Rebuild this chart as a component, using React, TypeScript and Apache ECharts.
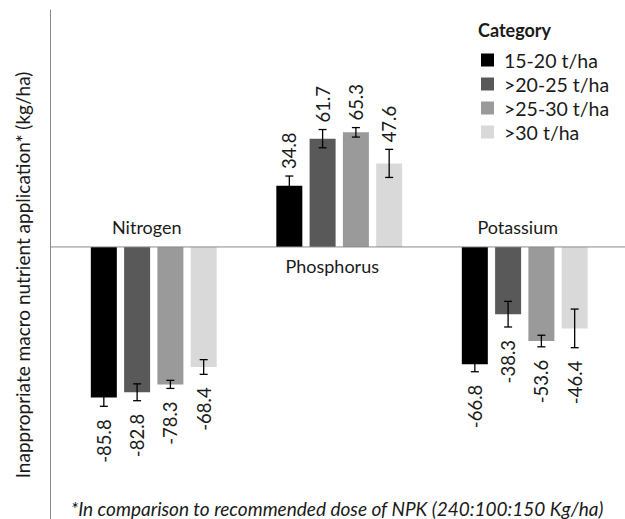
import React, { useEffect, useRef } from "react";
import * as echarts from "echarts";

const categories = ["Nitrogen", "Phosphorus", "Potassium"];
const seriesNames = ["15-20 t/ha", ">20-25 t/ha", ">25-30 t/ha", ">30 t/ha"];
const values15to20 = [-85.8, 34.8, -66.8];
const values20to25 = [-82.8, 61.7, -38.3];
const values25to30 = [-78.3, 65.3, -53.6];
const valuesOver30 = [-68.4, 47.6, -46.4];
const errors15to20 = [5.0, 5.6, 4.3];
const errors20to25 = [4.8, 5.2, 7.3];
const errors25to30 = [2.3, 2.7, 3.3];
const errorsOver30 = [4.2, 8.0, 11.0];
const yAxisTitle = "Inappropriate macro nutrient application* (kg/ha)";
const footnote = "*In comparison to recommended dose of NPK (240:100:150 Kg/ha)";
const legendTitle = "Category";

const allValues = [values15to20, values20to25, values25to30, valuesOver30];
const allErrors = [errors15to20, errors20to25, errors25to30, errorsOver30];
const colors = ["#000000", "#595959", "#9a9a9a", "#d9d9d9"];
const FONT = "Lato";
const TEXT = "#1a1a1a";
const BAR_W = 26;
const BAR_GAP = 0.28;
const SPACING = BAR_W * (1 + BAR_GAP);

export default function App() {
  const ref = useRef<HTMLDivElement>(null);
  useEffect(() => {
    if (!ref.current) return;
    const chart = echarts.init(ref.current, null, { renderer: "svg" });
    const errData: any[] = [];
    allValues.forEach((vals, s) => {
      vals.forEach((v, c) => {
        errData.push([c, v, allErrors[s][c], s]);
      });
    });
    const option: any = {
      animation: false,
      textStyle: { fontFamily: FONT },
      grid: { left: 61, right: 7.5, top: 10, bottom: 0, containLabel: false },
      title: {
        text: legendTitle,
        left: 473,
        top: 16,
        textStyle: { fontFamily: FONT, fontSize: 18, fontWeight: "bold", color: TEXT },
      },
      legend: {
        data: seriesNames,
        orient: "vertical",
        left: 476,
        top: 45,
        itemWidth: 13,
        itemHeight: 13,
        itemGap: 4,
        icon: "rect",
        textStyle: {
          fontFamily: FONT,
          fontSize: 19.5,
          color: TEXT,
          padding: [0, 0, 0, 5],
        },
      },
      xAxis: {
        type: "category",
        data: categories,
        axisLine: { show: false },
        axisTick: { show: false },
        axisLabel: { show: false },
        splitLine: { show: false },
      },
      yAxis: {
        type: "value",
        min: -155,
        max: 135,
        offset: 11,
        axisLine: { show: true, onZero: false, lineStyle: { color: "#8a8a8a", width: 1 } },
        axisTick: { show: false },
        axisLabel: { show: false },
        splitLine: { show: false },
      },
      series: [
        ...allValues.map((vals, s) => ({
          type: "bar",
          name: seriesNames[s],
          data: vals,
          barWidth: BAR_W,
          barGap: `${BAR_GAP * 100}%`,
          itemStyle: { color: colors[s] },
        })),
        {
          type: "custom",
          name: "errors",
          data: errData,
          encode: { x: 0, y: 1 },
          z: 10,
          renderItem: (params: any, api: any) => {
            const c = api.value(0);
            const v = api.value(1);
            const e = api.value(2);
            const s = api.value(3);
            const base = api.coord([c, v]);
            const x = base[0] + (s - 1.5) * SPACING;
            const yHi = api.coord([c, v + e])[1];
            const yLo = api.coord([c, v - e])[1];
            const cap = 4;
            const ls = { stroke: "#000", lineWidth: 1.3 };
            const pos = v >= 0;
            const label = String(v);
            return {
              type: "group",
              children: [
                { type: "line", shape: { x1: x, y1: yHi, x2: x, y2: yLo }, style: ls },
                { type: "line", shape: { x1: x - cap, y1: yHi, x2: x + cap, y2: yHi }, style: ls },
                { type: "line", shape: { x1: x - cap, y1: yLo, x2: x + cap, y2: yLo }, style: ls },
                {
                  type: "text",
                  x: x,
                  y: pos ? yHi - 7 : yLo + 13,
                  rotation: Math.PI / 2,
                  style: {
                    text: label,
                    x: 0,
                    y: 0,
                    align: pos ? "left" : "right",
                    verticalAlign: "middle",
                    fontFamily: FONT,
                    fontSize: 18.5,
                    fill: TEXT,
                  },
                },
              ],
            };
          },
        },
        {
          type: "custom",
          name: "catLabels",
          data: categories.map((_, i) => [i, 0]),
          encode: { x: 0, y: 1 },
          z: 10,
          renderItem: (params: any, api: any) => {
            const p = api.coord([api.value(0), 0]);
            const idx = params.dataIndex;
            const above = idx !== 1;
            return {
              type: "text",
              x: p[0] - 7,
              y: above ? p[1] - 20 : p[1] + 19,
              style: {
                text: categories[idx],
                x: 0,
                y: 0,
                align: "center",
                verticalAlign: "middle",
                fontFamily: FONT,
                fontSize: 18,
                fill: TEXT,
              },
            };
          },
        },
      ],
    };
    chart.setOption(option);
    const y0 = chart.convertToPixel({ yAxisIndex: 0 }, 0) as number;
    chart.setOption({
      graphic: [
        {
          type: "line",
          shape: { x1: 50, y1: y0, x2: 625, y2: y0 },
          style: { stroke: "#8a8a8a", lineWidth: 1 },
          z: 5,
        },
        {
          type: "text",
          x: 22,
          y: 275,
          rotation: Math.PI / 2,
          style: {
            text: yAxisTitle,
            align: "center",
            verticalAlign: "middle",
            fontFamily: FONT,
            fontSize: 19,
            fill: TEXT,
          },
        },
        {
          type: "text",
          x: 337,
          y: 508,
          style: {
            text: footnote,
            align: "center",
            verticalAlign: "middle",
            fontFamily: FONT,
            fontSize: 19,
            fontStyle: "italic",
            fill: TEXT,
          },
        },
      ],
    });
    return () => chart.dispose();
  }, []);
  return (
    <div
      ref={ref}
      style={{ position: "fixed", left: 0, top: 0, width: 625, height: 519, background: "#fff" }}
    />
  );
}
